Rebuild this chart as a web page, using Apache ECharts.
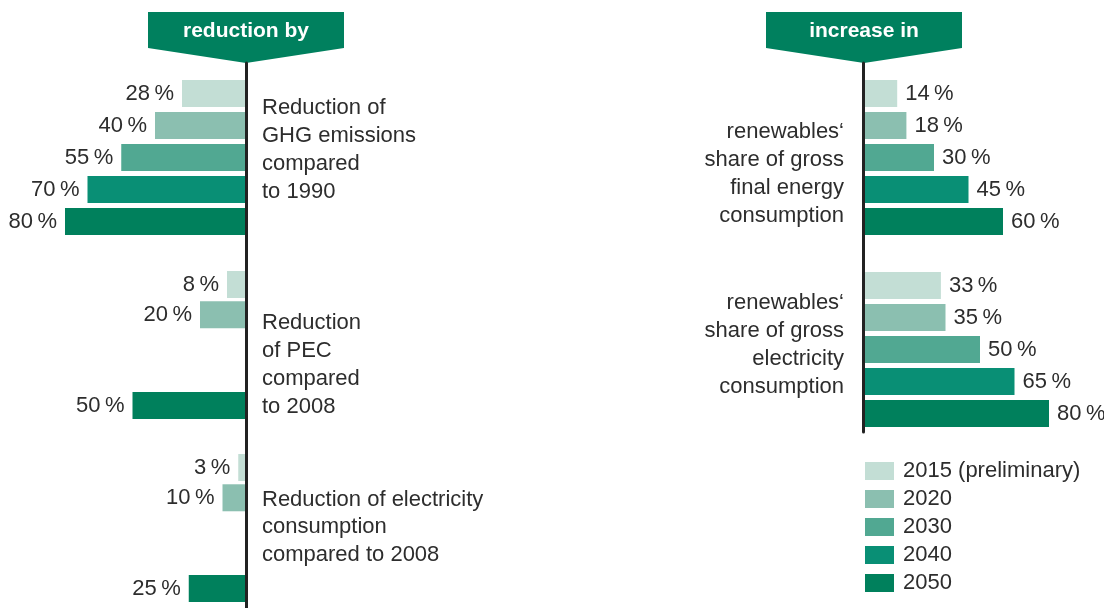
<!DOCTYPE html>
<html>
<head>
<meta charset="utf-8">
<script src="https://cdn.jsdelivr.net/npm/echarts@6/dist/echarts.min.js"></script>
<style>
  html, body { margin: 0; padding: 0; background: #fff; }
  #chart { width: 1104px; height: 608px; }
</style>
</head>
<body>
<div id="chart"></div>
<script>
// years (legend + categories)
const years = ['2015 (preliminary)', '2020', '2030', '2040', '2050'];
// left panel: reduction by
const ghgReduction = [28, 40, 55, 70, 80];
const pecReduction = [8, 20, null, null, 50];
const elecReduction = [3, 10, null, null, 25];
// right panel: increase in
const resFinalEnergy = [14, 18, 30, 45, 60];
const resElectricity = [33, 35, 50, 65, 80];

const colors = ['#c3ded5', '#8bbfb0', '#51a892', '#098f75', '#00805c'];
const font = '"Liberation Sans", Arial, sans-serif';
const textColor = '#2d2d2d';

const chart = echarts.init(document.getElementById('chart'));

// grids: 0-2 left groups, 3-4 right groups, 5-6 axis spines
const grids = [
  {left: 20, width: 225, top: 77.5, height: 160},
  {left: 20, width: 225, top: 269.4, height: 151.25},
  {left: 20, width: 225, top: 452.4, height: 151.25},
  {left: 865, width: 230, top: 77.5, height: 160},
  {left: 865, width: 230, top: 269.5, height: 160},
  {left: 20, width: 226.5, top: 63, height: 545},
  {left: 863.5, width: 230, top: 63, height: 369}
];

const xAxes = grids.map((g, i) => ({
  gridIndex: i,
  type: 'value',
  min: 0,
  max: i >= 5 ? 1 : 100,
  inverse: i < 3,
  show: false
}));

const yAxes = grids.map((g, i) => {
  if (i >= 5) {
    return {
      gridIndex: i,
      type: 'value',
      min: 0,
      max: 1,
      position: i === 5 ? 'right' : 'left',
      axisLine: {show: true, onZero: false, lineStyle: {color: '#222', width: 3}},
      axisTick: {show: false},
      axisLabel: {show: false},
      splitLine: {show: false}
    };
  }
  return {
    gridIndex: i,
    type: 'category',
    data: years,
    inverse: true,
    show: false
  };
});

const groups = [
  {grid: 0, values: ghgReduction, side: 'left'},
  {grid: 1, values: pecReduction, side: 'left'},
  {grid: 2, values: elecReduction, side: 'left'},
  {grid: 3, values: resFinalEnergy, side: 'right'},
  {grid: 4, values: resElectricity, side: 'right'}
];

const series = [];
groups.forEach(grp => {
  years.forEach((year, i) => {
    series.push({
      name: year,
      type: 'bar',
      xAxisIndex: grp.grid,
      yAxisIndex: grp.grid,
      stack: 'g' + grp.grid,
      barWidth: 27,
      itemStyle: {color: colors[i]},
      label: {
        show: true,
        position: grp.side,
        distance: 8,
        color: textColor,
        fontSize: 22,
        fontFamily: font,
        formatter: p => p.value + '\u2009%'
      },
      emphasis: {disabled: true},
      data: years.map((_, j) => (j === i ? grp.values[i] : null))
    });
  });
});

function banner(cx, label) {
  return [
    {
      type: 'polygon',
      shape: {points: [[cx - 98, 12], [cx + 98, 12], [cx + 98, 48], [cx, 63], [cx - 98, 48]]},
      style: {fill: '#00805e'}
    },
    {
      type: 'text',
      x: cx, y: 31,
      style: {
        text: label, fill: '#fff', font: 'bold 21px ' + font,
        align: 'center', verticalAlign: 'middle'
      }
    }
  ];
}

function note(x, y, text, align, lh) {
  return {
    type: 'text',
    x: x, y: y,
    style: {
      text: text, fill: textColor, font: '22px ' + font,
      align: align, verticalAlign: 'top', lineHeight: lh || 28
    }
  };
}

chart.setOption({
  backgroundColor: '#fff',
  animation: false,
  grid: grids,
  xAxis: xAxes,
  yAxis: yAxes,
  legend: {
    data: years,
    orient: 'vertical',
    left: 865,
    top: 460,
    padding: 0,
    icon: 'rect',
    itemWidth: 29,
    itemHeight: 18,
    itemGap: 6,
    selectedMode: false,
    textStyle: {fontSize: 22, color: textColor, fontFamily: font, padding: [0, 0, 0, 4]}
  },
  graphic: [
    ...banner(246, 'reduction by'),
    ...banner(864, 'increase in'),
    note(262, 94, 'Reduction of\nGHG emissions\ncompared\nto 1990', 'left'),
    note(262, 309, 'Reduction\nof PEC\ncompared\nto 2008', 'left'),
    note(262, 486, 'Reduction of electricity\nconsumption\ncompared to 2008', 'left', 27.5),
    note(844, 118, 'renewables\u2018\nshare of gross\nfinal energy\nconsumption', 'right'),
    note(844, 289, 'renewables\u2018\nshare of gross\nelectricity\nconsumption', 'right')
  ],
  series: series
});
</script>
</body>
</html>
